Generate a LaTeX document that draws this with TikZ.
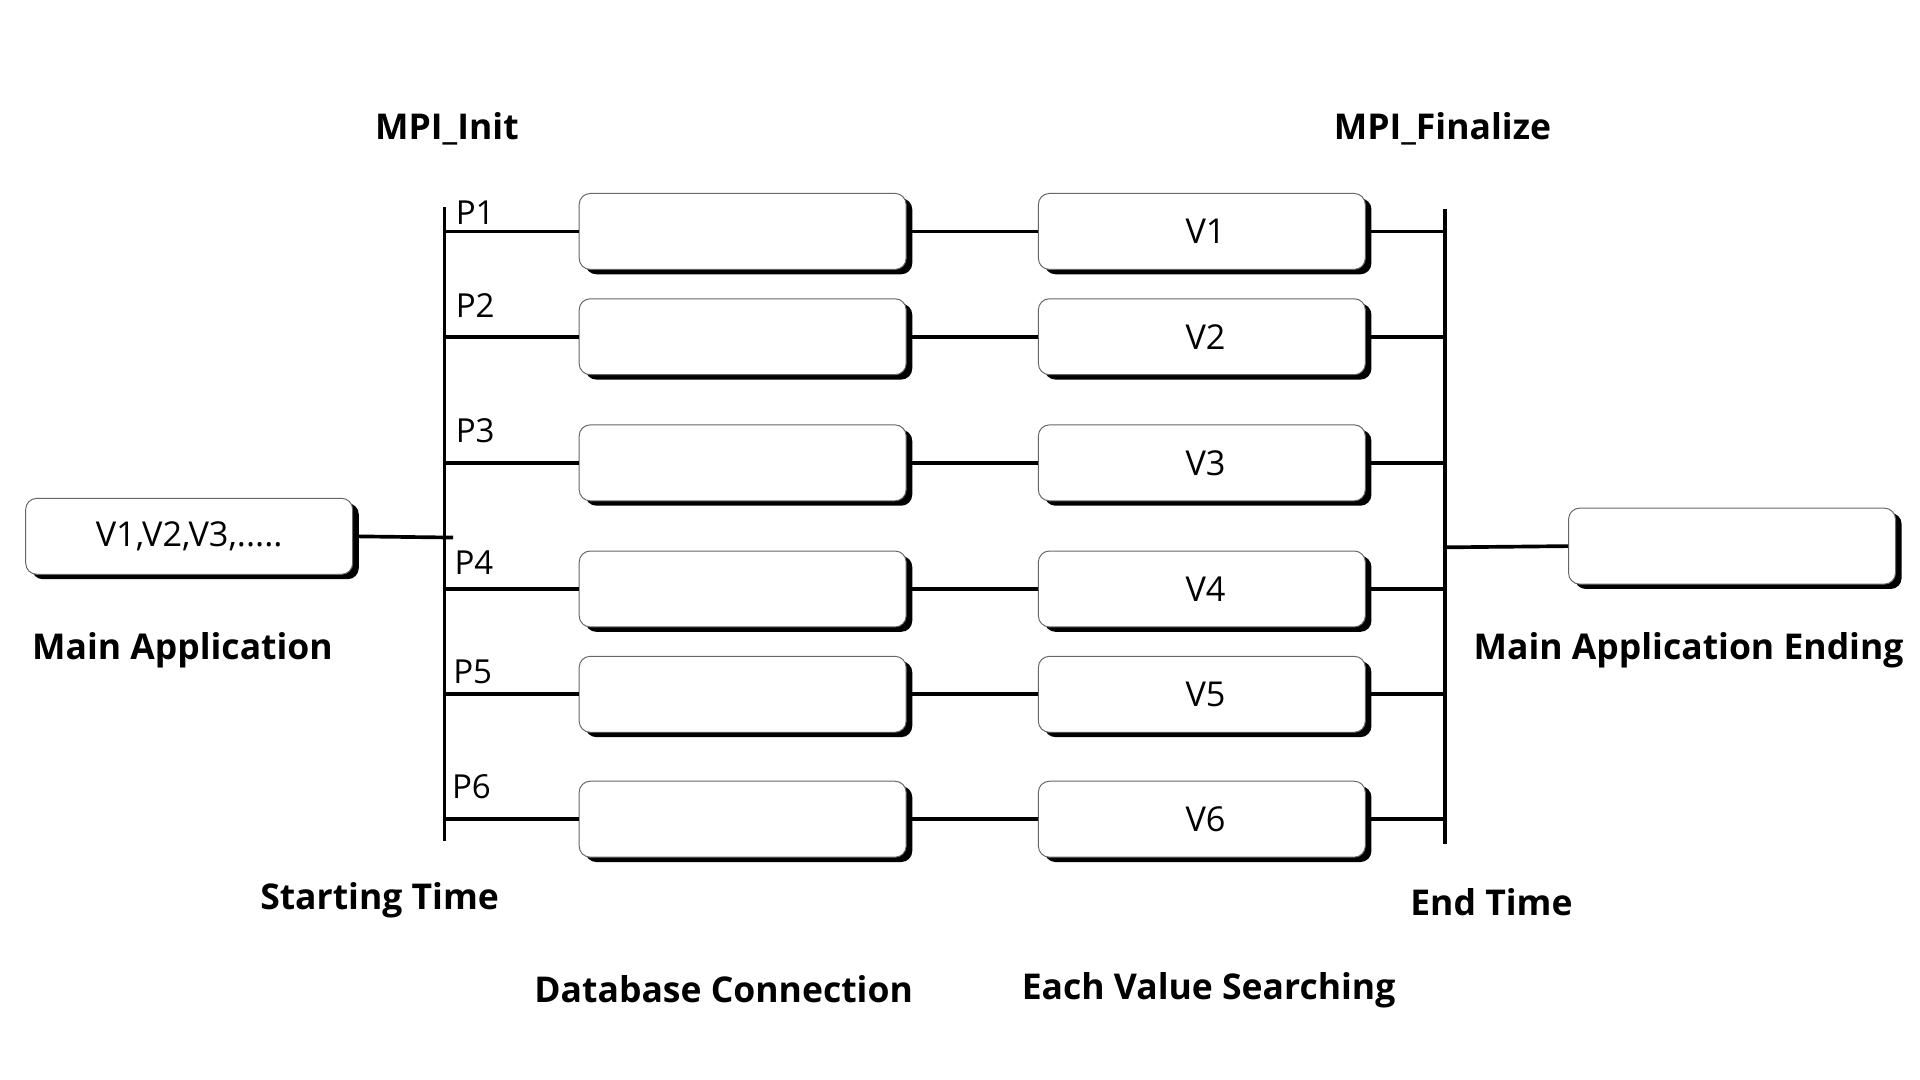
\documentclass[tikz,border=0pt]{standalone}
\usepackage{fontspec}
\setmainfont{Open Sans}
\usetikzlibrary{shadows}

\begin{document}
\begin{tikzpicture}[x=1pt,y=-1pt,
    task/.style ={rectangle, rounded corners=9pt, draw=black!60, line width=0.8pt,
      fill=white, minimum width=267pt, minimum height=62pt, inner sep=0pt,
      font=\fontsize{28}{30}\selectfont,
      drop shadow={shadow xshift=5pt, shadow yshift=-4pt, fill=black, opacity=1}},
    caption/.style ={font=\fontsize{29}{34}\selectfont\bfseries, inner sep=0pt},
    plabel/.style ={font=\fontsize{27}{30}\selectfont, inner sep=0pt, anchor=base west},
    wire/.style ={line width=3pt}]
   \useasboundingbox (0,0) rectangle (1568,882);

   \node[task] (main)   at (154.5,438) {V1,V2,V3,.....};
   \node[task] (ending) at (1414.5,446) {};

   \coordinate (inittop) at (363,169);
   \coordinate (initbot) at (363,687);
   \coordinate (initin)  at (370,439);
   \coordinate (fintop)  at (1180,171);
   \coordinate (finbot)  at (1180,689);
   \coordinate (finout)  at (1180,447);

   \foreach \i/\y/\dy/\px in {1/189/6/372, 2/275/16/372, 3/378/17/372,
                              4/481/12/371, 5/567/9/370, 6/669/17/369} {
     \node[task] (db\i) at (606.5,\y) {};
     \node[task] (sv\i) at (981.5,\y) {\hspace{6pt}V\i};
     \coordinate (init\i) at (363,\y);
     \coordinate (fin\i)  at (1180,\y);
     \node[plabel] (p\i) at (\px,\y-\dy) {P\i};
     \draw[wire] (init\i) -- (db\i.west);
     \draw[wire] (db\i.east) -- (sv\i.west);
     \draw[wire] (sv\i.east) -- (fin\i);
   }

   \draw[wire] (inittop) -- (initbot);
   \draw[wire] (fintop) -- (finbot);
   \draw[wire] (main.east) -- (initin);
   \draw[wire] (finout) -- (ending.west);

   \node[caption] (init)     at (365,105)  {MPI\_Init};
   \node[caption] (finalize) at (1178,105) {MPI\_Finalize};
   \node[caption] (mainapp)  at (149,531)  {Main Application};
   \node[caption] (mainend)  at (1379,531) {Main Application Ending};
   \node[caption] (start)    at (310,735)  {Starting Time};
   \node[caption] (endtime)  at (1218,737) {End Time};
   \node[caption] (dbconn)   at (591,808)  {Database Connection};
   \node[caption] (search)   at (987,809)  {Each Value Searching};
 \end{tikzpicture}
\end{document}
